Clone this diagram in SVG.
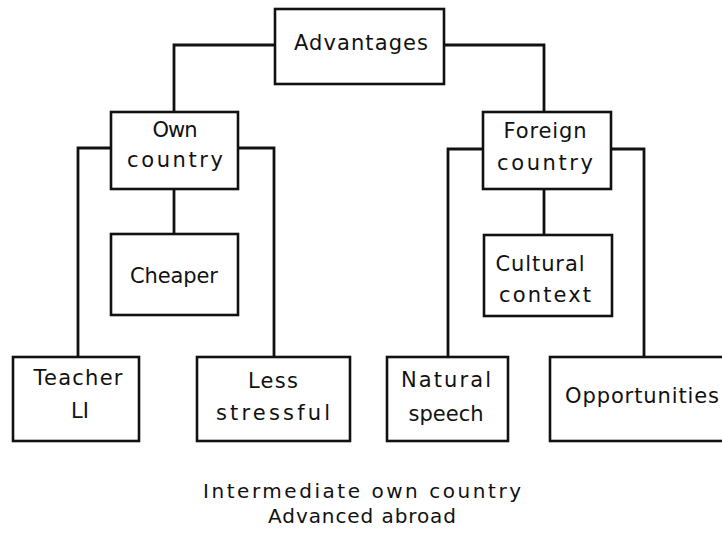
<svg xmlns="http://www.w3.org/2000/svg" width="722" height="535" viewBox="0 0 722 535">
<style>
.box{fill:#fff;stroke:#111;stroke-width:2.6}
.ln{fill:none;stroke:#111;stroke-width:2.8}
text{font-family:"DejaVu Sans","Liberation Sans",sans-serif;font-size:21px;fill:#111;text-anchor:middle}
.note{font-size:20px}
</style>
<rect width="722" height="535" fill="#fff"/>
<g id="connectors">
<path class="ln" d="M275 45H174V112"/>
<path class="ln" d="M444 45H544V112"/>
<path class="ln" d="M111 148H78V357"/>
<path class="ln" d="M238 148H274V357"/>
<path class="ln" d="M174 189V234"/>
<path class="ln" d="M483 149H448V357"/>
<path class="ln" d="M611 149H644V357"/>
<path class="ln" d="M544 189V235"/>
</g>
<g id="advantages">
<rect class="box" x="275" y="9" width="169" height="75"/>
<text x="361" y="50" textLength="134" lengthAdjust="spacing">Advantages</text>
</g>
<g id="own-country">
<rect class="box" x="111" y="112" width="127" height="77"/>
<text x="175" y="137" textLength="45" lengthAdjust="spacing">Own</text>
<text x="175" y="167" textLength="96" lengthAdjust="spacing">country</text>
</g>
<g id="foreign-country">
<rect class="box" x="483" y="112" width="128" height="77"/>
<text x="545" y="138" textLength="83" lengthAdjust="spacing">Foreign</text>
<text x="545" y="170" textLength="96" lengthAdjust="spacing">country</text>
</g>
<g id="cheaper">
<rect class="box" x="111" y="234" width="127" height="81"/>
<text x="174" y="283" textLength="88" lengthAdjust="spacing">Cheaper</text>
</g>
<g id="cultural-context">
<rect class="box" x="484" y="235" width="128" height="81"/>
<text x="540" y="271" textLength="89" lengthAdjust="spacing">Cultural</text>
<text x="545" y="302" textLength="92" lengthAdjust="spacing">context</text>
</g>
<g id="teacher-l1">
<rect class="box" x="13" y="357" width="126" height="84"/>
<text x="78" y="385" textLength="89" lengthAdjust="spacing">Teacher</text>
<text x="80" y="418">LI</text>
</g>
<g id="less-stressful">
<rect class="box" x="197" y="357" width="153" height="84"/>
<text x="273" y="388" textLength="50" lengthAdjust="spacing">Less</text>
<text x="273" y="420" textLength="114" lengthAdjust="spacing">stressful</text>
</g>
<g id="natural-speech">
<rect class="box" x="387" y="357" width="121" height="84"/>
<text x="446" y="387" textLength="90" lengthAdjust="spacing">Natural</text>
<text x="446" y="421" textLength="75" lengthAdjust="spacing">speech</text>
</g>
<g id="opportunities">
<rect class="box" x="550" y="357" width="190" height="84"/>
<text x="642" y="403" textLength="154" lengthAdjust="spacing">Opportunities</text>
</g>
<g id="note">
<text class="note" x="362" y="498" textLength="318" lengthAdjust="spacing">Intermediate own country</text>
<text class="note" x="362" y="523" textLength="188" lengthAdjust="spacing">Advanced abroad</text>
</g>
</svg>
